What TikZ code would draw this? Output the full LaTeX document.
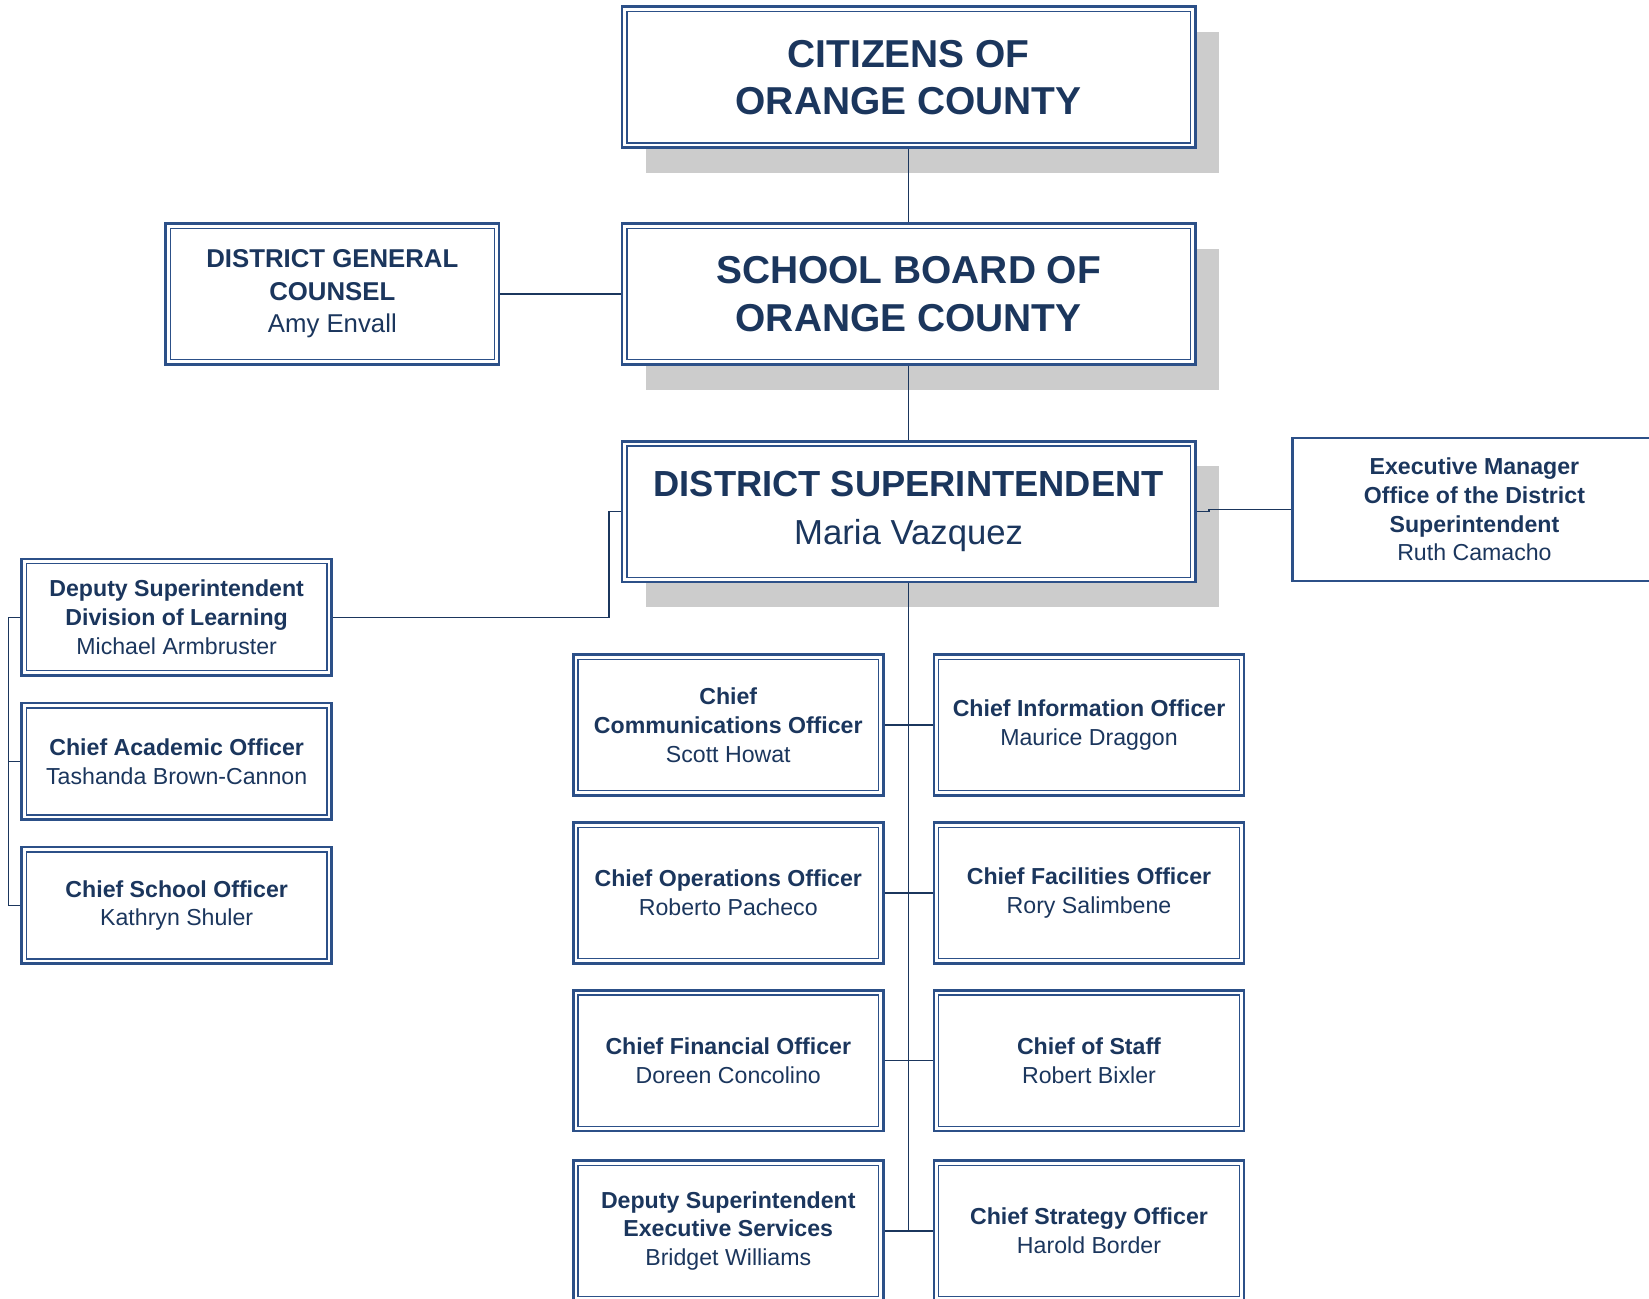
\documentclass[tikz,border=0pt]{standalone}
\usepackage{fontspec}
\setmainfont{Liberation Sans}
\usetikzlibrary{shadows}
\definecolor{navy}{HTML}{1B365D}
\definecolor{rim}{HTML}{2C5088}
\definecolor{shade}{HTML}{CCCCCC}
\tikzset{
  dbox/.style={draw=rim, line width=2.6pt, fill=white, inner sep=0pt, align=center, text=navy,
    path picture={\draw[rim, line width=1.2pt]
      ([shift={(4.6pt,4.6pt)}]path picture bounding box.south west) rectangle
      ([shift={(-4.6pt,-4.6pt)}]path picture bounding box.north east);}},
  bigbox/.style={dbox, minimum width=545, minimum height=134,
    drop shadow={shadow xshift=23pt, shadow yshift=-24pt, fill=shade, opacity=1}},
  unitbox/.style={dbox, minimum width=295, minimum height=134, font=\fontsize{22}{27.5}\selectfont},
  sidebox/.style={dbox, minimum width=295, minimum height=111, font=\fontsize{22}{27.5}\selectfont},
  link/.style={draw=navy, line width=1.5pt}
}
\newcommand\titlefont{\fontsize{37}{45}\selectfont\bfseries}
\begin{document}
\begin{tikzpicture}[x=1pt, y=-1pt]
    \useasboundingbox (0,0) rectangle (1568,1235);
    % top of the chart
    \node[bigbox, font=\titlefont] (citizens) at (864,73.5) {CITIZENS OF\\ORANGE COUNTY};
    \node[bigbox, font=\titlefont] (board) at (864,279.5) {SCHOOL BOARD OF\\ORANGE COUNTY};
    \node[bigbox, font=\fontsize{33}{46}\selectfont] (supt) at (864,486.5)
        {{\bfseries\fontsize{34.5}{46}\selectfont DISTRICT SUPERINTENDENT}\\Maria Vazquez};
    \node[dbox, minimum width=317, minimum height=134, font=\fontsize{24.5}{31}\selectfont] (counsel) at (316,279.5)
        {\textbf{DISTRICT GENERAL}\\\textbf{COUNSEL}\\Amy Envall};
    \node[draw=rim, line width=2pt, inner sep=0pt, align=center, text=navy, minimum width=346, minimum height=136,
        font=\fontsize{22}{27.2}\selectfont] (exec) at (1402,484.5)
        {\textbf{Executive Manager}\\\textbf{Office of the District}\\\textbf{Superintendent}\\Ruth Camacho};
    % left column
    \node[sidebox] (learning) at (168,587) {\textbf{Deputy Superintendent}\\\textbf{Division of Learning}\\Michael Armbruster};
    \node[sidebox] (academic) at (168,724) {\textbf{Chief Academic Officer}\\Tashanda Brown-Cannon};
    \node[sidebox] (school) at (168,861) {\textbf{Chief School Officer}\\Kathryn Shuler};
    % chiefs under the superintendent
    \node[unitbox] (comms) at (692.5,689.5) {\textbf{Chief}\\\textbf{Communications Officer}\\Scott Howat};
    \node[unitbox] (info) at (1035.5,689.5) {\textbf{Chief Information Officer}\\Maurice Draggon};
    \node[unitbox] (ops) at (692.5,849) {\textbf{Chief Operations Officer}\\Roberto Pacheco};
    \node[unitbox] (facil) at (1035.5,849) {\textbf{Chief Facilities Officer}\\Rory Salimbene};
    \node[unitbox] (finance) at (692.5,1008.5) {\textbf{Chief Financial Officer}\\Doreen Concolino};
    \node[unitbox] (staff) at (1035.5,1008.5) {\textbf{Chief of Staff}\\Robert Bixler};
    \node[unitbox] (execsvc) at (692.5,1170.5) {\textbf{Deputy Superintendent}\\\textbf{Executive Services}\\Bridget Williams};
    \node[unitbox] (strategy) at (1035.5,1170.5) {\textbf{Chief Strategy Officer}\\Harold Border};
    % connectors
    \draw[link] (citizens.south) -- (board.north);
    \draw[link] (board.south) -- (supt.north);
    \draw[link] (counsel.east) -- (board.west);
    \draw[link] (supt.west) -- ++(-11,0) |- (learning.east);
    \draw[link] (supt.east) -- ++(12,0) |- (exec.west);
    \draw[link] (learning.west) -- ++(-11,0) |- (school.west);
    \draw[link] (academic.west) -- ++(-11,0);
    \draw[link] (supt.south) -- (supt.south |- strategy.west);
    \foreach \a/\b in {comms/info, ops/facil, finance/staff, execsvc/strategy}
        \draw[link] (\a.east) -- (\b.west);
\end{tikzpicture}
\end{document}
